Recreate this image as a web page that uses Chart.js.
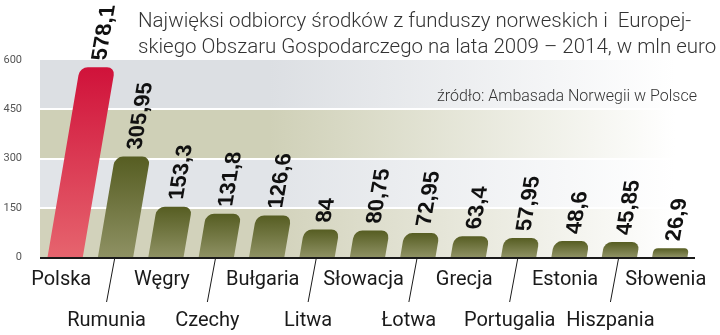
<!DOCTYPE html>
<html>
<head>
<meta charset="utf-8">
<script src="https://cdn.jsdelivr.net/npm/chart.js@4.4.1/dist/chart.umd.min.js"></script>
<style>
  html, body { margin: 0; padding: 0; background: #fff; }
  #wrap { width: 720px; height: 335px; position: relative; }
</style>
</head>
<body>
<div id="wrap"><canvas id="chart"></canvas></div>
<script>
// data
const countries = ['Polska', 'Rumunia', 'Węgry', 'Czechy', 'Bułgaria', 'Litwa', 'Słowacja',
                   'Łotwa', 'Grecja', 'Portugalia', 'Estonia', 'Hiszpania', 'Słowenia'];
const funds = [578.1, 305.95, 153.3, 131.8, 126.6, 84, 80.75, 72.95, 63.4, 57.95, 48.6, 45.85, 26.9];
const yTicks = [0, 150, 300, 450, 600];
const titleLines = ['Najwięksi odbiorcy środków z funduszy norweskich i  Europej-',
                    'skiego Obszaru Gospodarczego na lata 2009 – 2014, w mln euro'];
const sourceText = 'źródło: Ambasada Norwegii w Polsce';

const SLANT = 0.17;
const bandColors = ['#d2d2bb', '#e1e4e8', '#cfd0b7', '#dcdfe3'];

function fmt(v) { return String(v).replace('.', ','); }

const slantPlugin = {
  id: 'slant',
  beforeDatasetsDraw(chart) {
    const { ctx, chartArea: a, scales: { y } } = chart;
    // background bands fading to white on the right
    for (let i = 0; i < yTicks.length - 1; i++) {
      const top = y.getPixelForValue(yTicks[i + 1]);
      const bot = y.getPixelForValue(yTicks[i]);
      const g = ctx.createLinearGradient(a.left, 0, a.right, 0);
      g.addColorStop(0, bandColors[i]);
      g.addColorStop(0.35, bandColors[i]);
      g.addColorStop(0.97, 'rgba(255,255,255,1)');
      ctx.fillStyle = g;
      ctx.fillRect(a.left, top, a.right - a.left, bot - top);
    }
    ctx.save();
    ctx.strokeStyle = '#fff';
    ctx.lineWidth = 2;
    yTicks.slice(1, -1).forEach(t => {
      const py = Math.round(y.getPixelForValue(t));
      ctx.beginPath();
      ctx.moveTo(a.left, py);
      ctx.lineTo(a.right, py);
      ctx.stroke();
    });
    ctx.restore();

    // skew everything drawn for the bars
    ctx.save();
    const y0 = y.getPixelForValue(0);
    ctx.transform(1, 0, -SLANT, 1, SLANT * y0, 0);
  },
  afterDatasetsDraw(chart) {
    const { ctx, chartArea: a, scales: { x, y } } = chart;
    const meta = chart.getDatasetMeta(0);
    ctx.fillStyle = '#111';
    ctx.font = 'bold 22px "Liberation Sans", Arial, sans-serif';
    ctx.textAlign = 'left';
    ctx.textBaseline = 'middle';
    meta.data.forEach((bar, i) => {
      ctx.save();
      ctx.translate(bar.x, bar.y - 7);
      ctx.rotate(-Math.PI / 2);
      ctx.fillText(fmt(funds[i]), 0, 1);
      ctx.restore();
    });
    ctx.restore();

    // axis line
    const y0 = Math.round(y.getPixelForValue(0)) + 1;
    ctx.save();
    ctx.strokeStyle = '#1a1a1a';
    ctx.lineWidth = 2;
    ctx.beginPath();
    ctx.moveTo(a.left, y0);
    ctx.lineTo(a.right, y0);
    ctx.stroke();

    // category labels, odd ones on a second row with a leader line
    ctx.font = '20px Roboto, sans-serif';
    ctx.fillStyle = '#1a1a1a';
    ctx.textAlign = 'center';
    ctx.textBaseline = 'alphabetic';
    ctx.lineWidth = 1;
    countries.forEach((c, i) => {
      const cx = x.getPixelForValue(i);
      if (i % 2 === 0) {
        ctx.fillText(c, cx - 4, y0 + 27);
      } else {
        ctx.beginPath();
        ctx.moveTo(cx - 1, y0 + 1);
        ctx.lineTo(cx - 9, y0 + 44);
        ctx.stroke();
        ctx.fillText(c, cx - 9, y0 + 68);
      }
    });
    ctx.restore();
  },
  afterDraw(chart) {
    const { ctx, chartArea: a } = chart;
    ctx.save();
    ctx.fillStyle = '#333';
    ctx.font = '300 20.5px Roboto, sans-serif';
    ctx.textAlign = 'left';
    ctx.textBaseline = 'alphabetic';
    ctx.fillText(titleLines[0], 138, 27);
    ctx.fillText(titleLines[1], 138, 53);
    ctx.font = '300 16px Roboto, sans-serif';
    ctx.textAlign = 'right';
    ctx.fillText(sourceText, a.right + 2, 101);
    ctx.restore();
  }
};

new Chart(document.getElementById('chart').getContext('2d'), {
  type: 'bar',
  data: {
    labels: countries,
    datasets: [{
      data: funds,
      clip: false,
      barPercentage: 0.7,
      categoryPercentage: 1,
      borderRadius: { topLeft: 8, topRight: 8, bottomLeft: 0, bottomRight: 0 },
      borderSkipped: 'bottom',
      backgroundColor(c) {
        const chart = c.chart;
        if (!chart.chartArea) return '#6b7236';
        const y = chart.scales.y;
        const top = y.getPixelForValue(funds[c.dataIndex]);
        const bot = y.getPixelForValue(0);
        const g = chart.ctx.createLinearGradient(0, top, 0, bot);
        if (c.dataIndex === 0) {
          g.addColorStop(0, '#d0123a');
          g.addColorStop(1, '#e6646e');
        } else {
          g.addColorStop(0, '#565d22');
          g.addColorStop(1, '#8e9163');
        }
        return g;
      }
    }]
  },
  options: {
    responsive: true,
    maintainAspectRatio: false,
    animation: false,
    layout: { padding: { top: 60, right: 25, bottom: 78, left: 0 } },
    plugins: { legend: { display: false }, tooltip: { enabled: false } },
    scales: {
      x: { display: false },
      y: {
        min: 0,
        max: 600,
        afterFit(scale) { scale.width = 40; },
        afterBuildTicks(scale) { scale.ticks = yTicks.map(v => ({ value: v })); },
        grid: { display: false },
        border: { display: false },
        ticks: {
          padding: 10,
          color: '#555',
          font: { family: 'Roboto', size: 11 }
        }
      }
    }
  },
  plugins: [slantPlugin]
});
</script>
</body>
</html>
